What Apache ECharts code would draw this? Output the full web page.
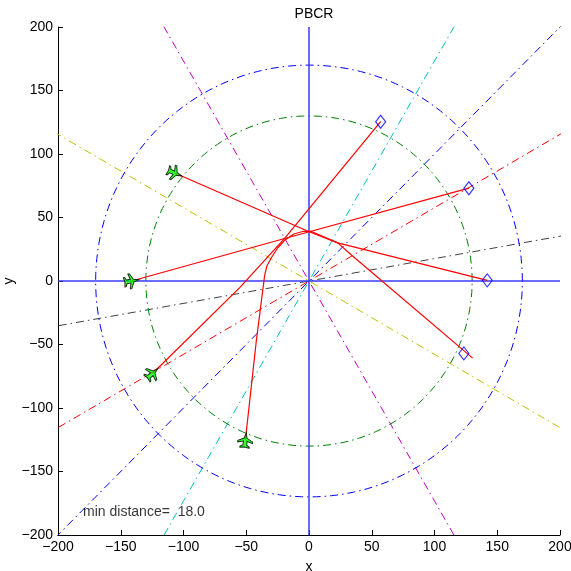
<!DOCTYPE html>
<html>
<head>
<meta charset="utf-8">
<script src="https://cdn.jsdelivr.net/npm/echarts@6/dist/echarts.min.js"></script>
<style>
  html, body { margin: 0; padding: 0; background: #fff; }
  #chart { width: 571px; height: 571px; }
</style>
</head>
<body>
<div id="chart"></div>
<script>
// protected zones and reference headings
const ringRadii = [170, 130];
const ringColors = ['#0000ff', '#008000'];
const refAngles = [10, 30, 45, 60, 120, 150];
const refColors = ['#404040', '#ff0000', '#0000ff', '#00bfbf', '#bf00bf', '#bfbf00'];

// flown trajectories (start -> goal)
const pathA = [[-107, 85], [0.6, 38.6], [22.9, 30], [142, 0.5]];
const pathB = [[-141.4, 0], [-19.4, 33.5], [127.4, 73.1]];
const pathC = [[-124.7, -72.8], [-55, -5], [-19.4, 33.5], [57.1, 125.4]];
const pathD = [[-50.7, -125.4], [-41.9, -46.5], [-35.3, 4.7], [-33.5, 12], [-29.9, 18.5],
  [-25, 26], [-19.4, 32], [-12, 37], [-5, 39], [2, 39], [22.9, 30], [33.8, 20.5], [130.4, -60.7]];

// aircraft start positions with heading (deg) and goals
const starts = [[-107, 85], [-141.4, 0], [-124.7, -72.8], [-50.7, -125.4]];
const headings = [-23, 10, 42, 83];
const goals = [[57.1, 125.4], [127.4, 73.1], [142, 0.5], [123.4, -57]];

const minDistance = 18.0;

const dashDot = [8, 4, 1.5, 4];
const jet = 'path://M20,10 L13,8.5 L9,2 L7,2 L9,8 L4,8 L2,5 L0.5,5 L1.5,10 L0.5,15 L2,15 L4,12 L9,12 L7,18 L9,18 L13,11.5 Z';

const ringPoints = r => {
    const pts = [];
    for (let a = 0; a <= 360; a += 2) {
        const t = a * Math.PI / 180;
        pts.push([r * Math.cos(t), r * Math.sin(t)]);
    }
    return pts;
};

const lineSeries = (data, color, type, width) => ({
    type: 'line',
    data,
    symbol: 'none',
    silent: true,
    clip: true,
    lineStyle: { color, type, width: width || 1 },
    animation: false
});

const series = [];
refAngles.forEach((a, i) => {
    const t = a * Math.PI / 180;
    const R = 300;
    series.push(lineSeries([[-R * Math.cos(t), -R * Math.sin(t)], [R * Math.cos(t), R * Math.sin(t)]], refColors[i], dashDot));
});
ringRadii.forEach((r, i) => {
    series.push(lineSeries(ringPoints(r), ringColors[i], dashDot));
});
// solid axes through origin
series.push(lineSeries([[-200, 0], [200, 0]], '#3a3aff', 'solid', 1.5));
series.push(lineSeries([[0, -200], [0, 200]], '#3a3aff', 'solid', 1.5));

[pathA, pathB, pathC, pathD].forEach(p => {
    series.push(lineSeries(p, '#ff0000', 'solid', 1.2));
});

series.push({
    type: 'scatter',
    data: goals,
    symbol: 'diamond',
    symbolSize: [10, 13],
    itemStyle: { color: 'rgba(0,0,0,0)', borderColor: '#0000ff', borderWidth: 1.2 },
    animation: false,
    z: 5
});

series.push({
    type: 'scatter',
    data: starts.map((s, i) => ({ value: s, symbolRotate: headings[i] })),
    symbol: jet,
    symbolSize: 15,
    itemStyle: { color: '#00ff00', borderColor: '#000', borderWidth: 1 },
    animation: false,
    z: 6
});

series.push({
    type: 'scatter',
    data: [[-180, -182]],
    symbolSize: 0,
    label: {
        show: true,
        position: [0, 0],
        align: 'left',
        verticalAlign: 'middle',
        formatter: 'min distance=  ' + minDistance.toFixed(1),
        color: '#000',
        fontSize: 14,
        fontFamily: 'Liberation Sans'
    },
    animation: false
});

const fmt = v => String(v).replace('-', '\u2212');

const axisCommon = {
    type: 'value',
    min: -200,
    max: 200,
    interval: 50,
    nameLocation: 'middle',
    nameTextStyle: { color: '#000', fontSize: 14, fontFamily: 'Liberation Sans' },
    axisLine: { show: true, onZero: false, lineStyle: { color: '#000', width: 1 } },
    axisTick: { show: true, inside: true, length: 5, lineStyle: { color: '#000' } },
    axisLabel: { color: '#000', fontSize: 14, fontFamily: 'Liberation Sans', formatter: fmt },
    splitLine: { show: false }
};

const chart = echarts.init(document.getElementById('chart'));
chart.setOption({
    backgroundColor: '#fff',
    animation: false,
    title: {
        text: 'PBCR',
        left: 309,
        top: 2,
        textAlign: 'center',
        textStyle: { color: '#000', fontSize: 14, fontWeight: 'normal', fontFamily: 'Liberation Sans' }
    },
    grid: { left: 58, top: 27, right: 11, bottom: 36, containLabel: false, outerBoundsMode: 'none' },
    xAxis: Object.assign({}, axisCommon, { name: 'x', nameGap: 25, axisLabel: Object.assign({}, axisCommon.axisLabel, { margin: 5 }) }),
    yAxis: Object.assign({}, axisCommon, { name: 'y', nameGap: 42, nameMoveOverlap: false, axisLabel: Object.assign({}, axisCommon.axisLabel, { margin: 5 }) }),
    series
});
</script>
</body>
</html>
